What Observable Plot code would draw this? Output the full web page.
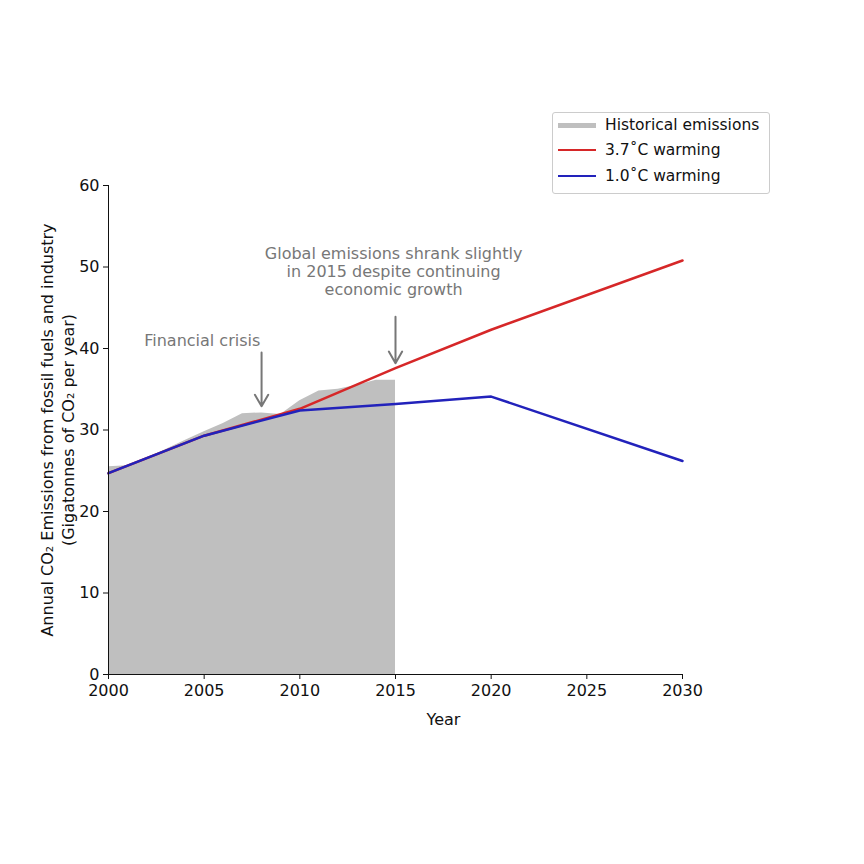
<!DOCTYPE html>
<html><head><meta charset="utf-8">
<script src="https://cdn.jsdelivr.net/npm/d3@7"></script>
<script src="https://cdn.jsdelivr.net/npm/@observablehq/plot@0.6"></script>
<style>
body{margin:0;font-family:"DejaVu Sans",sans-serif;background:#fff}
#wrap{position:relative;width:864px;height:864px}
#legend{position:absolute;left:552px;top:112px;width:216px;height:80px;border:1px solid #ccc;border-radius:3px;background:#fff;font-size:15.5px;color:#111}
#legend div{position:absolute;left:5px;display:flex;align-items:center}
#legend span.sw{display:inline-block;width:38px;margin-right:9px}
</style></head><body>
<div id="wrap"><div id="chart"></div>
<div id="legend">
<div style="top:3px"><span class="sw" style="border-top:5px solid #bfbfbf"></span>Historical emissions</div>
<div style="top:28px"><span class="sw" style="border-top:2.5px solid #d62728"></span>3.7˚C warming</div>
<div style="top:54px"><span class="sw" style="border-top:2.5px solid #2222bb"></span>1.0˚C warming</div>
</div></div>
<script>
const histYears = [2000,2001,2002,2003,2004,2005,2006,2007,2008,2009,2010,2011,2012,2013,2014,2015]
const histValues = [25.5,25.6,26.5,27.6,28.7,29.8,30.8,32.0,32.1,31.9,33.6,34.8,35.0,35.5,36.1,36.1]
const scenYears = [2000,2005,2010,2015,2020,2030]
const warm37 = [24.7,29.3,32.6,37.6,42.3,50.8]
const warm10 = [24.7,29.3,32.4,33.2,34.1,26.2]

const hist = histYears.map((y,i)=>({year:y,v:histValues[i]}))
const red = scenYears.map((y,i)=>({year:y,v:warm37[i]}))
const blue = scenYears.map((y,i)=>({year:y,v:warm10[i]}))
const notes = [
  {y:41,text:"Financial crisis",ax:2008,ay1:39.5,ay2:32.9,tx:2004.9},
  {y:49.5,text:"Global emissions shrank slightly\nin 2015 despite continuing\neconomic growth",ax:2015,ay1:43.9,ay2:38.2,tx:2014.9}
]

const plot = Plot.plot({
  width:864, height:864,
  marginLeft:108, marginRight:182, marginTop:185, marginBottom:190,
  style:{fontFamily:"DejaVu Sans, sans-serif", fontSize:"16px", color:"#111"},
  x:{domain:[2000,2030], ticks:[2000,2005,2010,2015,2020,2025,2030], tickFormat:d=>String(d), label:null, tickSize:5, tickPadding:5},
  y:{domain:[0,60], ticks:[0,10,20,30,40,50,60], label:null, tickSize:5},
  marks:[
    Plot.areaY(hist,{x:"year",y:"v",fill:"#bfbfbf"}),
    Plot.line(red,{x:"year",y:"v",stroke:"#d62728",strokeWidth:2.5}),
    Plot.line(blue,{x:"year",y:"v",stroke:"#2222bb",strokeWidth:2.5}),
    Plot.arrow(notes,{x1:"ax",x2:"ax",y1:"ay1",y2:"ay2",stroke:"#777",strokeWidth:2,headLength:10}),
    Plot.text(notes,{x:"tx",y:"y",text:"text",fill:"#777",fontSize:16,lineHeight:1.15,textAnchor:"middle"}),
    Plot.text(["Annual CO₂ Emissions from fossil fuels and industry\n(Gigatonnes of CO₂ per year)"],{frameAnchor:"left",dx:-52,rotate:-90,textAnchor:"middle",lineAnchor:"middle",fontSize:16,fill:"#111",lineHeight:1.35}),
    Plot.text(["Year"],{frameAnchor:"bottom",dx:48,dy:50,textAnchor:"middle",fontSize:16,fill:"#111"}),
    Plot.ruleX([2000],{stroke:"#111"}),
    Plot.ruleY([0],{stroke:"#111"})
  ]
})
document.querySelector("#chart").append(plot)
</script></body></html>
